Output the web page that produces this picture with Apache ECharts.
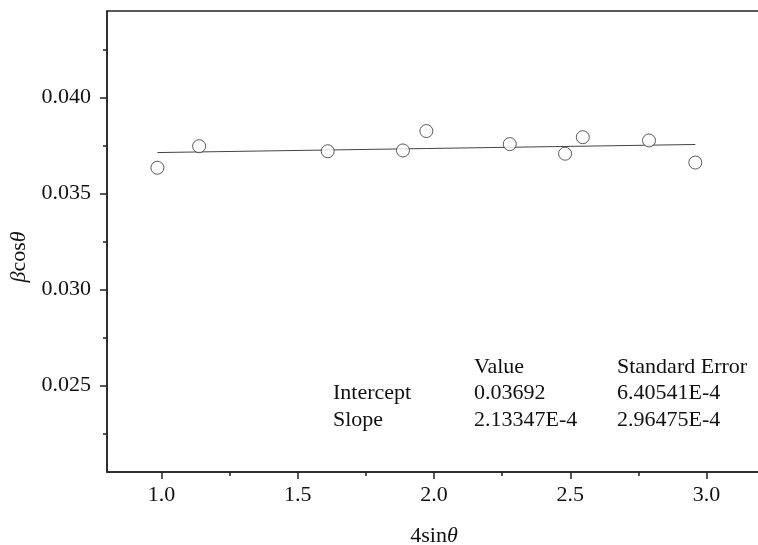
<!DOCTYPE html>
<html>
<head>
<meta charset="utf-8">
<script src="https://cdn.jsdelivr.net/npm/echarts@6/dist/echarts.min.js"></script>
<style>
  html, body { margin: 0; padding: 0; background: #fff; }
  #chart { width: 758px; height: 545px; }
</style>
</head>
<body>
<div id="chart"></div>
<script>
// measured points (4 sin θ, β cos θ)
const xVals = [0.985, 1.138, 1.610, 1.886, 1.972, 2.278, 2.481, 2.546, 2.789, 2.959];
const yVals = [0.03634, 0.03746, 0.03720, 0.03724, 0.03825, 0.03757, 0.03707, 0.03793, 0.03776, 0.03661];
// linear fit end points
const fitX = [0.985, 2.959];
const fitY = [0.03713, 0.03755];

const xMajor = [1.0, 1.5, 2.0, 2.5, 3.0];
const xMinor = [1.25, 1.75, 2.25, 2.75];
const yMajor = [0.025, 0.030, 0.035, 0.040];
const yMinor = [0.0225, 0.0275, 0.0325, 0.0375, 0.0425];

const tableHead = ['Value', 'Standard Error'];
const tableRows = ['Intercept', 'Slope'];
const tableValues = [['0.03692', '6.40541E-4'], ['2.13347E-4', '2.96475E-4']];

const FONT = '"Liberation Serif", "Times New Roman", serif';
const FS = 22;
const INK = '#111';
const AXIS = '#222';

var myChart = echarts.init(document.getElementById('chart'));

const baseAxis = {
  type: 'value',
  splitLine: { show: false },
  axisLine: { show: true, lineStyle: { color: AXIS, width: 1.5 } },
};

// table text placed as graphic elements
const colX = [333, 474, 617];
const rowY = [368, 394.5, 421.5];
const textStyle = t => ({ text: t, font: FS + 'px ' + FONT, fill: INK, verticalAlign: 'middle' });
let graphic = [];
tableHead.forEach((t, i) => {
  graphic.push({ type: 'text', left: colX[i + 1], top: rowY[0] - 12, style: textStyle(t) });
});
tableRows.forEach((t, r) => {
  graphic.push({ type: 'text', left: colX[0], top: rowY[r + 1] - 12, style: textStyle(t) });
  tableValues[r].forEach((v, c) => {
    graphic.push({ type: 'text', left: colX[c + 1], top: rowY[r + 1] - 12, style: textStyle(v) });
  });
});

const nameStyle = {
  fontFamily: FONT,
  fontSize: FS,
  color: INK,
  rich: { i: { fontFamily: FONT, fontSize: FS, fontStyle: 'italic', color: INK } },
};

myChart.setOption({
  backgroundColor: '#fff',
  animation: false,
  grid: {
    left: 107,
    top: 11,
    right: -3,
    bottom: 73,
    containLabel: false,
    outerBoundsMode: 'none',
    show: true,
    borderColor: AXIS,
    borderWidth: 1.5,
  },
  xAxis: [
    {
      ...baseAxis,
      position: 'bottom',
      min: 0.8,
      max: 3.2,
      axisTick: { show: true, length: 7, customValues: xMajor, lineStyle: { color: AXIS, width: 1.5 } },
      axisLabel: {
        customValues: xMajor,
        margin: 12,
        fontFamily: FONT,
        fontSize: FS,
        color: INK,
        formatter: v => v.toFixed(1),
      },
      name: '4sin{i|θ}',
      nameLocation: 'middle',
      nameGap: 53,
      nameTextStyle: nameStyle,
    },
    {
      ...baseAxis,
      position: 'bottom',
      min: 0.8,
      max: 3.2,
      axisLine: { show: false },
      axisTick: { show: true, length: 4, customValues: xMinor, lineStyle: { color: AXIS, width: 1.5 } },
      axisLabel: { show: false },
    },
  ],
  yAxis: [
    {
      ...baseAxis,
      position: 'left',
      min: 0.0205,
      max: 0.0445,
      axisTick: { show: true, length: 7, customValues: yMajor, lineStyle: { color: AXIS, width: 1.5 } },
      axisLabel: {
        customValues: yMajor,
        margin: 16,
        fontFamily: FONT,
        fontSize: FS,
        color: INK,
        formatter: v => v.toFixed(3),
      },
      name: '{i|β}cos{i|θ}',
      nameLocation: 'middle',
      nameGap: 75,
      nameTextStyle: { ...nameStyle, padding: [0, 31, 0, 0] },
    },
    {
      ...baseAxis,
      position: 'left',
      min: 0.0205,
      max: 0.0445,
      axisLine: { show: false },
      axisTick: { show: true, length: 4, customValues: yMinor, lineStyle: { color: AXIS, width: 1.5 } },
      axisLabel: { show: false },
    },
  ],
  series: [
    {
      type: 'line',
      data: fitX.map((x, i) => [x, fitY[i]]),
      symbol: 'none',
      lineStyle: { color: '#444', width: 1 },
      z: 2,
    },
    {
      type: 'scatter',
      data: xVals.map((x, i) => [x, yVals[i]]),
      symbol: 'circle',
      symbolSize: 13,
      itemStyle: { color: '#fff', borderColor: '#333', borderWidth: 1 },
      z: 3,
    },
  ],
  graphic,
});
</script>
</body>
</html>
